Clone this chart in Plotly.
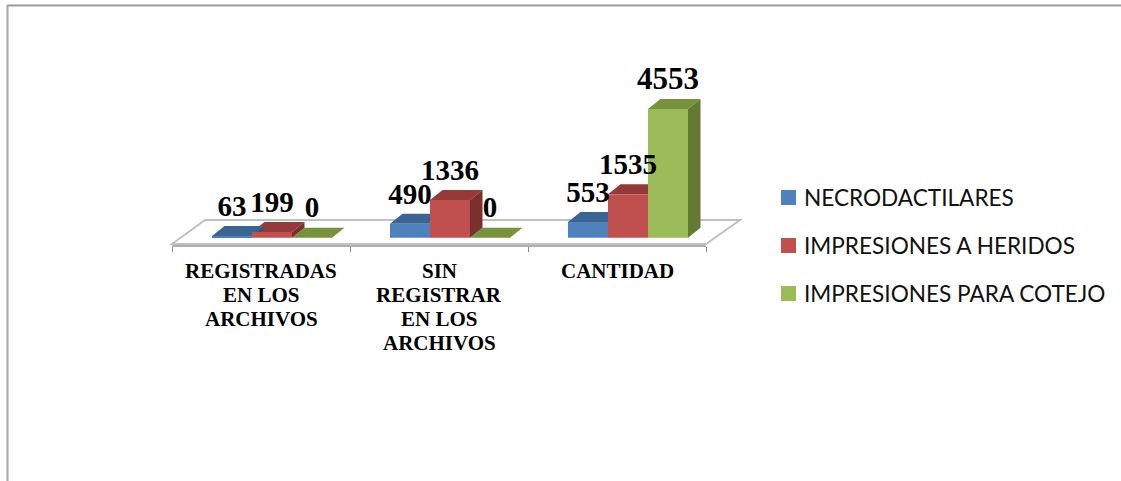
import plotly.graph_objects as go

categories = ["REGISTRADAS<br>EN LOS<br>ARCHIVOS", "SIN<br>REGISTRAR<br>EN LOS<br>ARCHIVOS", "CANTIDAD"]
series_names = ["NECRODACTILARES", "IMPRESIONES A HERIDOS", "IMPRESIONES PARA COTEJO"]
necrodactilares = [63, 490, 553]
impresiones_heridos = [199, 1336, 1535]
impresiones_cotejo = [0, 0, 4553]
series_values = [necrodactilares, impresiones_heridos, impresiones_cotejo]
front_colors = ["#4F81BD", "#C0504D", "#9BBB59"]
top_colors = ["#3A6491", "#943A38", "#76923C"]
side_colors = ["#2F5279", "#7A302E", "#637A36"]
label_sizes = [[29, 29, 29], [29, 29, 29], [29, 29, 31]]

W, H = 1121, 481
X0, X1 = 172.0, 706.0         # pixel span of the category axis
STEP = (X1 - X0) / 3
BASE_PX = 237.7               # pixel row of value 0
PX_PER_UNIT = 128.7 / 4553
DX_PX, DY_PX = 12.5, 10.0     # oblique depth of the 3-D boxes
BAR_PX = 40.0
SHIFT_PX = 11.0
LABEL_PX = 27.5

dx = DX_PX / STEP
dy = DY_PX / PX_PER_UNIT
w = BAR_PX / STEP
ymax = BASE_PX / PX_PER_UNIT
ymin = -(H - BASE_PX) / PX_PER_UNIT
idx = list(range(len(categories)))

def bar_x(i, j):
    return i + SHIFT_PX / STEP + (j - 1) * w

def px(x, y):
    return x / W, 1 - y / H

fig = go.Figure()
shapes = []
annotations = []

# floor of the 3-D chart
floor = [(172, 244), (205, 220), (740, 220), (706, 244)]
path = "M " + " L ".join(f"{px(*p)[0]},{px(*p)[1]}" for p in floor) + " Z"
shapes.append(dict(type="path", xref="paper", yref="paper", path=path, layer="below",
                   fillcolor="white", line=dict(color="#C0C0C0", width=2)))

# depth faces, right-hand series first so each box hides the one behind it
for j in reversed(range(3)):
    for i in idx:
        v = series_values[j][i]
        l = bar_x(i, j) - w / 2
        r = bar_x(i, j) + w / 2
        top = f"M {l},{v} L {r},{v} L {r+dx},{v+dy} L {l+dx},{v+dy} Z"
        side = f"M {r},0 L {r+dx},{dy} L {r+dx},{v+dy} L {r},{v} Z"
        shapes.append(dict(type="path", xref="x", yref="y", path=top, layer="below",
                           fillcolor=top_colors[j], line=dict(width=0)))
        if v > 0:
            shapes.append(dict(type="path", xref="x", yref="y", path=side, layer="below",
                               fillcolor=side_colors[j], line=dict(width=0)))

for j in range(3):
    fig.add_trace(go.Bar(
        x=[bar_x(i, j) for i in idx], y=series_values[j], width=w,
        marker=dict(color=front_colors[j], line=dict(width=0)),
        name=series_names[j], showlegend=False, hoverinfo="skip"))

for j in range(3):
    vals = series_values[j]
    fig.add_trace(go.Scatter(
        x=[bar_x(i, j) for i in idx], y=[v + LABEL_PX / PX_PER_UNIT for v in vals],
        mode="text", text=[str(v) for v in vals], textposition="middle center",
        textfont=dict(family="Liberation Serif", size=label_sizes[j], color="black", weight="bold"),
        cliponaxis=False, showlegend=False, hoverinfo="skip"))

# category labels, one annotation per line to hold the tight line spacing
for i, cat in enumerate(categories):
    for k, line in enumerate(cat.split("<br>")):
        annotations.append(dict(
            text=line, x=i, xref="x", y=px(0, 270.5 + k * 24.3)[1], yref="paper",
            xanchor="center", yanchor="middle", showarrow=False,
            font=dict(family="Liberation Serif", size=21, color="black", weight="bold")))

# legend keys and texts
for j, name in enumerate(series_names):
    cy = 197.5 + j * 48
    x0, y0 = px(781, cy - 7.5)
    x1, y1 = px(796, cy + 7.5)
    shapes.append(dict(type="rect", xref="paper", yref="paper", x0=x0, x1=x1, y0=y0, y1=y1,
                       fillcolor=front_colors[j], line=dict(width=0)))
    annotations.append(dict(
        text=name, x=px(801.5, 0)[0], xref="paper", y=px(0, cy)[1], yref="paper",
        xanchor="left", yanchor="middle", showarrow=False,
        font=dict(family="Lato", size=22.6, color="#111111")))

fig.update_layout(
    width=W, height=H, autosize=False,
    margin=dict(l=0, r=0, t=0, b=0),
    paper_bgcolor="white", plot_bgcolor="rgba(0,0,0,0)",
    barmode="overlay", shapes=shapes, annotations=annotations, showlegend=False,
    xaxis=dict(domain=[X0 / W, X1 / W], range=[-0.5, 2.5], anchor="free",
               position=1 - 245.5 / H, showgrid=False, zeroline=False,
               showline=True, linecolor="#B0B0B0", linewidth=2,
               tickmode="array", tickvals=idx, ticktext=["" for _ in idx], ticks="",
               minor=dict(tickmode="array", tickvals=[-0.5, 0.5, 1.5, 2.5], ticks="outside",
                          ticklen=5, tickcolor="#8C8C8C", tickwidth=1, showgrid=False)),
    yaxis=dict(domain=[0, 1], range=[ymin, ymax], visible=False),
)

# outer frame: top and left edges only
fig.add_shape(type="line", xref="paper", yref="paper", x0=7 / W, x1=1, y0=1 - 5.5 / H, y1=1 - 5.5 / H,
              line=dict(color="#9A9A9A", width=2), layer="above")
fig.add_shape(type="line", xref="paper", yref="paper", x0=7.5 / W, x1=7.5 / W, y0=0, y1=1 - 5 / H,
              line=dict(color="#A6A6A6", width=2), layer="above")

fig.write_html("out.html", config={"displayModeBar": False},
               post_script="document.body.style.margin='0';document.body.style.overflow='hidden';")
